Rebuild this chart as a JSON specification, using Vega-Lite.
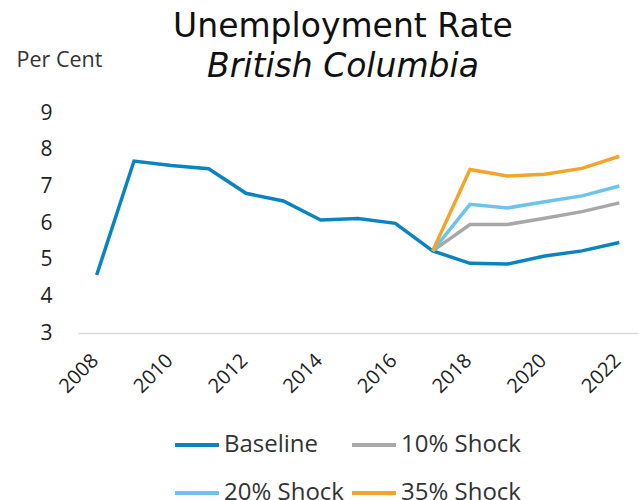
{
  "$schema": "https://vega.github.io/schema/vega-lite/v6.json",
  "width": 560,
  "height": 220,
  "autosize": {"type": "none"},
  "padding": {"left": 78, "top": 113, "right": 1, "bottom": 167},
  "background": "white",
  "config": {
    "font": "Open Sans",
    "view": {"stroke": null}
  },
  "title": {
    "text": "Unemployment Rate",
    "subtitle": "British Columbia",
    "anchor": "middle",
    "dx": -15,
    "offset": -35,
    "font": "DejaVu Sans",
    "fontSize": 33,
    "fontWeight": "normal",
    "color": "#111111",
    "subtitleFont": "DejaVu Sans",
    "subtitleFontSize": 33,
    "subtitleFontStyle": "italic",
    "subtitleColor": "#111111",
    "subtitlePadding": 7
  },
  "data": {
    "values": [
      {"year": 2008, "series": "Baseline", "rate": 4.58},
      {"year": 2009, "series": "Baseline", "rate": 7.69},
      {"year": 2010, "series": "Baseline", "rate": 7.57},
      {"year": 2011, "series": "Baseline", "rate": 7.48},
      {"year": 2012, "series": "Baseline", "rate": 6.81},
      {"year": 2013, "series": "Baseline", "rate": 6.6},
      {"year": 2014, "series": "Baseline", "rate": 6.08},
      {"year": 2015, "series": "Baseline", "rate": 6.12},
      {"year": 2016, "series": "Baseline", "rate": 5.99},
      {"year": 2017, "series": "Baseline", "rate": 5.24},
      {"year": 2018, "series": "Baseline", "rate": 4.9},
      {"year": 2019, "series": "Baseline", "rate": 4.88},
      {"year": 2020, "series": "Baseline", "rate": 5.1},
      {"year": 2021, "series": "Baseline", "rate": 5.24},
      {"year": 2022, "series": "Baseline", "rate": 5.47},
      {"year": 2017, "series": "10% Shock", "rate": 5.24},
      {"year": 2018, "series": "10% Shock", "rate": 5.96},
      {"year": 2019, "series": "10% Shock", "rate": 5.96},
      {"year": 2020, "series": "10% Shock", "rate": 6.13},
      {"year": 2021, "series": "10% Shock", "rate": 6.31},
      {"year": 2022, "series": "10% Shock", "rate": 6.55},
      {"year": 2017, "series": "20% Shock", "rate": 5.24},
      {"year": 2018, "series": "20% Shock", "rate": 6.51},
      {"year": 2019, "series": "20% Shock", "rate": 6.41},
      {"year": 2020, "series": "20% Shock", "rate": 6.58},
      {"year": 2021, "series": "20% Shock", "rate": 6.74},
      {"year": 2022, "series": "20% Shock", "rate": 7.01},
      {"year": 2017, "series": "35% Shock", "rate": 5.24},
      {"year": 2018, "series": "35% Shock", "rate": 7.46},
      {"year": 2019, "series": "35% Shock", "rate": 7.28},
      {"year": 2020, "series": "35% Shock", "rate": 7.33},
      {"year": 2021, "series": "35% Shock", "rate": 7.49},
      {"year": 2022, "series": "35% Shock", "rate": 7.82}
    ]
  },
  "mark": {"type": "line", "strokeWidth": 3.5, "strokeCap": "butt", "strokeJoin": "miter"},
  "encoding": {
    "x": {
      "field": "year",
      "type": "quantitative",
      "scale": {"domain": [2007.5, 2022.5], "nice": false, "zero": false},
      "axis": {
        "values": [2008, 2010, 2012, 2014, 2016, 2018, 2020, 2022],
        "format": "d",
        "title": null,
        "grid": false,
        "ticks": false,
        "domainColor": "#d9d9d9",
        "domainWidth": 1.5,
        "labelAngle": -45,
        "labelFontSize": 20,
        "labelColor": "#222222",
        "labelPadding": 17,
        "labelOffset": -9
      }
    },
    "y": {
      "field": "rate",
      "type": "quantitative",
      "scale": {"domain": [3, 9], "nice": false, "zero": false},
      "axis": {
        "values": [3, 4, 5, 6, 7, 8, 9],
        "title": "Per Cent",
        "titleAngle": 0,
        "titleAlign": "left",
        "titleBaseline": "middle",
        "titleX": -62,
        "titleY": -53,
        "titleFontSize": 21.5,
        "titleFontWeight": "normal",
        "titleColor": "#333333",
        "grid": false,
        "ticks": false,
        "domain": false,
        "labelFontSize": 21,
        "labelColor": "#222222",
        "labelPadding": 26
      }
    },
    "color": {
      "field": "series",
      "type": "nominal",
      "sort": ["Baseline", "10% Shock", "20% Shock", "35% Shock"],
      "scale": {
        "domain": ["Baseline", "10% Shock", "20% Shock", "35% Shock"],
        "range": ["#0a84c1", "#a8a8a8", "#6cc4ee", "#f5a42a"]
      },
      "legend": {
        "title": null,
        "orient": "none",
        "legendX": 95,
        "legendY": 308,
        "columns": 2,
        "direction": "horizontal",
        "symbolType": "stroke",
        "symbolSize": 1936,
        "symbolStrokeWidth": 4,
        "labelFontSize": 24,
        "labelColor": "#333333",
        "labelOffset": 3,
        "columnPadding": 0,
        "rowPadding": 12
      }
    }
  }
}
